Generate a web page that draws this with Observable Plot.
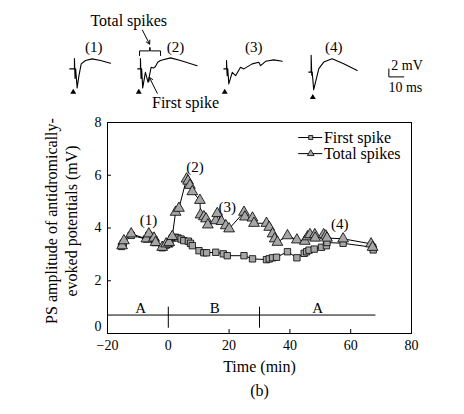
<!DOCTYPE html>
<html>
<head>
<meta charset="utf-8">
<script src="https://cdn.jsdelivr.net/npm/d3@7"></script>
<script src="https://cdn.jsdelivr.net/npm/@observablehq/plot@0.6"></script>
<style>
  body { margin: 0; background: #fff; }
  #chart { position: relative; width: 464px; height: 414px; }
  #chart svg { display: block; }
  #chart svg.toppanel { position: absolute; left: 0; top: 0; }
</style>
</head>
<body>
<div id="chart"></div>
<script>
// ---------- Main chart data ----------
const timeFirst = [-15.4, -14.8, -12.2, -7.2, -6.4, -4.7, -4.2, -2.0, -0.7, 0.5, 1.3, 2.4, 3.2, 4.2, 5.1, 6.6, 7.3, 7.9, 10.1, 11.7, 12.6, 15.6, 18.1, 19.4, 24.9, 27.7, 32.3, 33.2, 34.3, 35.6, 39.2, 42.3, 44.7, 45.5, 46.3, 48.0, 50.4, 52.0, 52.2, 57.5, 67.2, 67.4];
const ampFirst  = [3.30, 3.42, 3.72, 3.58, 3.72, 3.55, 3.45, 3.25, 3.35, 3.40, 3.62, 3.65, 3.62, 3.58, 3.52, 3.50, 3.42, 3.33, 3.14, 3.06, 3.06, 3.08, 3.02, 2.95, 2.95, 2.83, 2.80, 2.83, 2.87, 2.89, 3.10, 2.87, 3.04, 3.10, 3.16, 3.20, 3.27, 3.33, 3.45, 3.42, 3.27, 3.17];

const timeTotal = [-15.2, -14.6, -12.2, -7.2, -6.4, -4.7, -4.2, -2.0, -0.7, 0.3, 1.3, 2.4, 3.5, 6.0, 6.5, 7.1, 7.9, 10.4, 10.6, 11.7, 12.4, 13.0, 15.6, 16.1, 17.5, 18.9, 20.0, 24.9, 25.2, 27.7, 28.2, 32.3, 33.2, 34.3, 35.0, 35.9, 39.2, 42.3, 44.9, 45.8, 46.6, 48.2, 48.3, 51.1, 51.8, 52.2, 57.5, 66.7, 67.2];
const ampTotal  = [3.33, 3.52, 3.78, 3.59, 3.78, 3.62, 3.45, 3.27, 3.40, 3.45, 3.68, 4.60, 4.75, 5.86, 5.78, 5.62, 5.38, 5.05, 4.50, 4.43, 4.35, 4.12, 4.28, 4.55, 4.25, 4.09, 3.97, 4.60, 4.42, 4.38, 4.18, 4.18, 4.03, 3.78, 3.59, 3.46, 3.71, 3.55, 3.50, 3.67, 3.75, 3.75, 3.62, 3.75, 3.70, 3.62, 3.59, 3.40, 3.27];

const xTicks = [-20, 0, 20, 40, 60, 80];
const yTicks = [0, 2, 4, 6, 8];

const annoLabels = ["(1)", "(2)", "(3)", "(4)"];
const annoX = [-6.5, 8.8, 19.4, 56.4];
const annoY = [4.28, 6.3, 4.78, 4.13];

const phaseLabels = ["A", "B", "A"];
const phaseX = [-9.1, 15.3, 49.1];
const phaseLabelY = 0.95;
const phaseBarY = 0.7;
const phaseBarEnd = 68.3;
const phaseBounds = [0, 30];

const seriesNames = ["First spike", "Total spikes"];
const legendY = [7.43, 6.82];
const legendX = [42.9, 50.8];

// ---------- Top trace data (ms, mV; relative to each trace's start) ----------
const traceOffsetT = [46.2, 91.5, 148.9, 205.5];
const traceOffsetV = [-17.1, -17.1, -17.1, -17.9];
const trace1T = [0, 3.1, 3.1, 3.5, 3.9, 4.9, 6.1, 7.6, 10.5, 14.9, 20.5, 27.1];
const trace1V = [0, 0, 2.6, -2.4, 0, -4.75, -1.7, 1.25, 2.1, 2.5, 2.1, 1.4];
const trace2T = [0, 1.8, 1.8, 2.2, 2.6, 3.3, 5.1, 6.9, 8.9, 10.5, 11.8, 13.3, 15.1, 21.8, 28.5, 39.6];
const trace2V = [0, 0, 2.6, -2.4, 0, -4.75, -0.85, -3.35, 0.4, 0.2, 0.6, 1.65, 2.1, 2.75, 2.1, 0.8];
const trace3T = [0, 1.8, 1.8, 2.2, 2.6, 3.3, 5.6, 7.8, 11.1, 13.3, 18.9, 23.3, 24.5, 27.8, 33.3, 38.9];
const trace3V = [0, 0, 2.1, -1.7, 0, -3.75, -0.85, -1.7, 0.4, 0, 1.25, 1.65, 0.8, 1.9, 2.25, 1.9];
const trace4T = [0, 1.6, 1.6, 2.0, 2.3, 3.3, 6.7, 10, 15.6, 23.3, 32.3];
const trace4V = [0, 0, 4.2, -0.8, 0, -4.4, 0.85, 2.5, 3.35, 2.1, 0.4];
const traceLabels = ["(1)", "(2)", "(3)", "(4)"];
const traceLabelT = [62.2, 116.7, 168.9, 222.2];
const traceLabelV = -11.7;
const stimT = [48.5, 92.2, 149.5, 208.2];
const stimV = [-22.9, -22.9, -22.9, -24.2];
// brace over trace 2
const braceT = [92.7, 92.7, 99.3, 99.6, 99.9, 106.7, 106.7];
const braceV = [-13.75, -12.6, -12.6, -11.7, -12.6, -12.6, -13.75];
// scale bar: 2 mV / 10 ms
const barT = [258.9, 258.9, 268.9];
const barV = [-17.1, -19.1, -19.1];

// ---------- Build tables ----------
const firstData = timeFirst.map((t, i) => ({t, a: ampFirst[i]}));
const totalData = timeTotal.map((t, i) => ({t, a: ampTotal[i]}));
const annoData = annoLabels.map((s, i) => ({s, x: annoX[i], y: annoY[i]}));
const phaseData = phaseLabels.map((s, i) => ({s, x: phaseX[i]}));

const traceTs = [trace1T, trace2T, trace3T, trace4T];
const traceVs = [trace1V, trace2V, trace3V, trace4V];
const traceData = [];
traceTs.forEach((ts, k) => ts.forEach((t, j) => traceData.push({k, t: traceOffsetT[k] + t, v: traceOffsetV[k] + traceVs[k][j]})));

const serif = "'Liberation Serif', 'Times New Roman', serif";
const gray = "#a6a6a6";

// ---------- Top panel ----------
const topPanel = Plot.plot({
  className: "toppanel",
  width: 464, height: 112, margin: 0,
  x: {domain: [0, 464 / 1.5], axis: null},
  y: {domain: [-28, 0], axis: null},
  style: {fontFamily: serif, fontSize: "14px", color: "black", background: "transparent", overflow: "visible"},
  marks: [
    Plot.line(traceData, {x: "t", y: "v", z: "k", stroke: "black", strokeWidth: 1.1}),
    Plot.text(traceLabels, {x: (d, i) => traceLabelT[i], y: traceLabelV, text: d => d, fontSize: 15}),
    Plot.dot(stimT, {x: d => d, y: (d, i) => stimV[i], symbol: "triangle", r: 2.2, fill: "black", stroke: "none"}),
    Plot.line(braceT.map((t, i) => ({t, v: braceV[i]})), {x: "t", y: "v", stroke: "black", strokeWidth: 1}),
    Plot.text(["Total spikes"], {x: 85.5, y: -5, text: d => d, fontSize: 16}),
    Plot.arrow([0], {x1: 94.6, y1: -7.4, x2: 99.4, y2: -10.9, stroke: "black", strokeWidth: 1, headLength: 6}),
    Plot.text(["First spike"], {x: 101, y: -25.6, text: d => d, textAnchor: "start", fontSize: 16}),
    Plot.arrow([0], {x1: 104.5, y1: -23.2, x2: 99.2, y2: -19.2, stroke: "black", strokeWidth: 1, headLength: 6}),
    Plot.line(barT.map((t, i) => ({t, v: barV[i]})), {x: "t", y: "v", stroke: "black", strokeWidth: 1}),
    Plot.text(["2 mV"], {x: 260.5, y: -16.3, text: d => d, textAnchor: "start", fontSize: 14}),
    Plot.text(["10 ms"], {x: 258.6, y: -21.8, text: d => d, textAnchor: "start", fontSize: 14})
  ]
});

// ---------- Main chart ----------
const mainPanel = Plot.plot({
  width: 464, height: 414,
  marginLeft: 107, marginRight: 53, marginTop: 122, marginBottom: 81,
  x: {domain: [-20, 80]},
  y: {domain: [0, 8]},
  style: {fontFamily: serif, fontSize: "14px", color: "black", background: "white"},
  marks: [
    Plot.frame({stroke: "black", strokeWidth: 1}),
    Plot.axisX({ticks: xTicks, tickSize: 0, tickPadding: 7, label: null, fontSize: 14}),
    Plot.axisY({ticks: yTicks.filter(d => d > 0), tickSize: 0, tickPadding: 6, label: null, fontSize: 14}),
    Plot.axisY({ticks: yTicks.filter(d => d === 0), tickSize: 0, tickPadding: 6, label: null, fontSize: 14, dy: -7}),
    Plot.ruleX(xTicks.filter(d => d > -20 && d < 80 && !phaseBounds.includes(d)), {y1: 0, y2: 0.15, stroke: "black"}),
    Plot.ruleY(yTicks.filter(d => d > 0 && d < 8), {x1: -20, x2: -18.7, stroke: "black"}),
    // phases
    Plot.ruleY([phaseBarY], {x1: -20, x2: phaseBarEnd, stroke: "black", strokeWidth: 1}),
    Plot.ruleX(phaseBounds, {y1: 0.2, y2: 1.0, stroke: "black", strokeWidth: 1}),
    Plot.text(phaseData, {x: "x", y: phaseLabelY, text: "s", fontSize: 15}),
    // series
    Plot.line(totalData, {x: "t", y: "a", stroke: "black", strokeWidth: 1}),
    Plot.line(firstData, {x: "t", y: "a", stroke: "black", strokeWidth: 1}),
    Plot.dot(firstData, {x: "t", y: "a", symbol: "square", r: 3.6, fill: gray, stroke: "black", strokeWidth: 0.8}),
    Plot.dot(totalData, {x: "t", y: "a", symbol: "triangle", r: 4.0, fill: gray, stroke: "black", strokeWidth: 0.8}),
    Plot.text(annoData, {x: "x", y: "y", text: "s", fontSize: 15}),
    // legend
    Plot.ruleY(legendY, {x1: legendX[0], x2: legendX[1], stroke: "black", strokeWidth: 1}),
    Plot.dot([legendY[0]], {x: (legendX[0] + legendX[1]) / 2, y: d => d, symbol: "square", r: 2.3, fill: gray, stroke: "black", strokeWidth: 0.8}),
    Plot.dot([legendY[1]], {x: (legendX[0] + legendX[1]) / 2, y: d => d, symbol: "triangle", r: 2.5, fill: gray, stroke: "black", strokeWidth: 0.8}),
    Plot.text(seriesNames, {x: legendX[1] + 0.4, y: (d, i) => legendY[i], text: d => d, textAnchor: "start", fontSize: 16}),
    // axis titles
    Plot.text(["PS amplitude of antidromically-\nevoked potentials (mV)"], {frameAnchor: "left", textAnchor: "middle", rotate: -90, dx: -47, dy: -7, text: d => d, fontSize: 16, lineHeight: 1.25}),
    Plot.text(["Time (min)"], {frameAnchor: "bottom", dy: 38, text: d => d, fontSize: 16}),
    Plot.text(["(b)"], {frameAnchor: "bottom", dy: 62, text: d => d, fontSize: 16})
  ]
});

const chart = document.getElementById("chart");
chart.appendChild(mainPanel);
chart.appendChild(topPanel);
</script>
</body>
</html>
